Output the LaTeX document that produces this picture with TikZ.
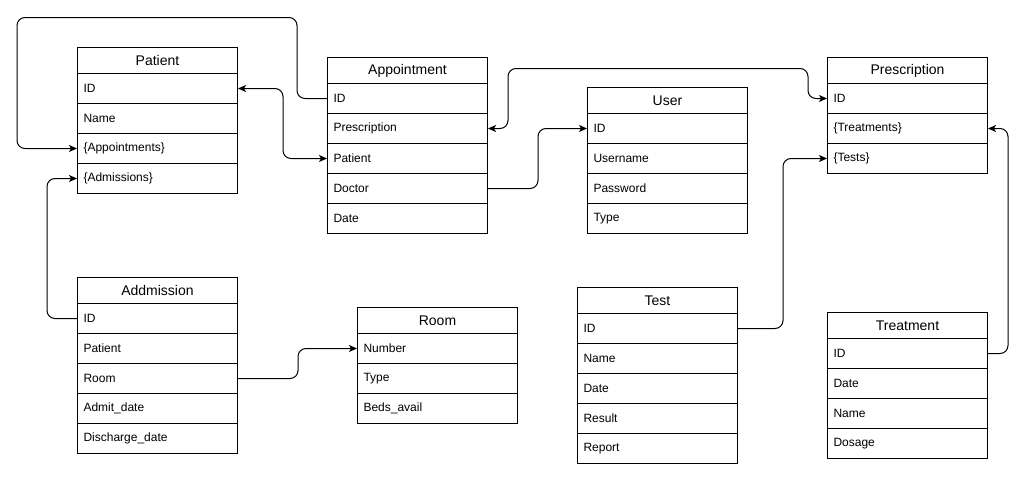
\documentclass[tikz,border=0pt]{standalone}
\usepackage{fontspec}
\setmainfont{Liberation Sans}
\usetikzlibrary{arrows.meta}
\tikzset{
  hdr/.style={draw=black, line width=1pt, minimum width=160pt, minimum height=26pt, inner sep=0pt, font=\fontsize{14}{16}\selectfont},
  fld/.style={draw=black, line width=1pt, minimum width=160pt, minimum height=30pt, text width=148pt, align=left, inner xsep=6pt, inner ysep=0pt, font=\fontsize{12}{14}\selectfont},
  conn/.style={line width=1pt, rounded corners=8pt, >={Stealth[length=8pt,width=7pt,inset=2pt]}}
}
\newcommand\ertable[5]{%
  \node[hdr, anchor=north west] (#1-h) at (#2,#3) {#4};
  \foreach \f [count=\i] in {#5} {
    \node[fld, anchor=north west] (#1-\i) at ({#2},{#3+26+30*(\i-1)}) {\f};
  }
}
\begin{document}
\begin{tikzpicture}[x=1pt,y=-1pt]
\useasboundingbox (0,0) rectangle (1026,477);
\ertable{pat}{77}{47}{Patient}{ID,Name,\{Appointments\},\{Admissions\}}
\ertable{app}{327}{57}{Appointment}{ID,Prescription,Patient,Doctor,Date}
\ertable{user}{587}{87}{User}{ID,Username,Password,Type}
\ertable{pre}{827}{57}{Prescription}{ID,\{Treatments\},\{Tests\}}
\ertable{add}{77}{277}{Addmission}{ID,Patient,Room,Admit\_date,Discharge\_date}
\ertable{room}{357}{307}{Room}{Number,Type,Beds\_avail}
\ertable{test}{577}{287}{Test}{ID,Name,Date,Result,Report}
\ertable{treat}{827}{312}{Treatment}{ID,Date,Name,Dosage}
% connectors
\draw[conn,->] (app-1.west) -- ++(-30,0) -- ++(0,-81) -- ++(-280,0) |- (pat-3.west);
\draw[conn,<->] (pat-1.east) -- ++(45,0) |- (app-3.west);
\draw[conn,->] (add-1.west) -- ++(-30,0) |- (pat-4.west);
\draw[conn,->] (add-3.east) -- ++(60,0) |- (room-1.west);
\draw[conn,->] (app-4.east) -- ++(50,0) |- (user-1.west);
\draw[conn,<->] (app-2.east) -- ++(20,0) -- ++(0,-60) -- ++(300,0) |- (pre-1.west);
\draw[conn,->] (test-1.east) -- ++(45,0) |- (pre-3.west);
\draw[conn,->] (treat-1.east) -- ++(20,0) |- (pre-2.east);
\end{tikzpicture}
\end{document}
